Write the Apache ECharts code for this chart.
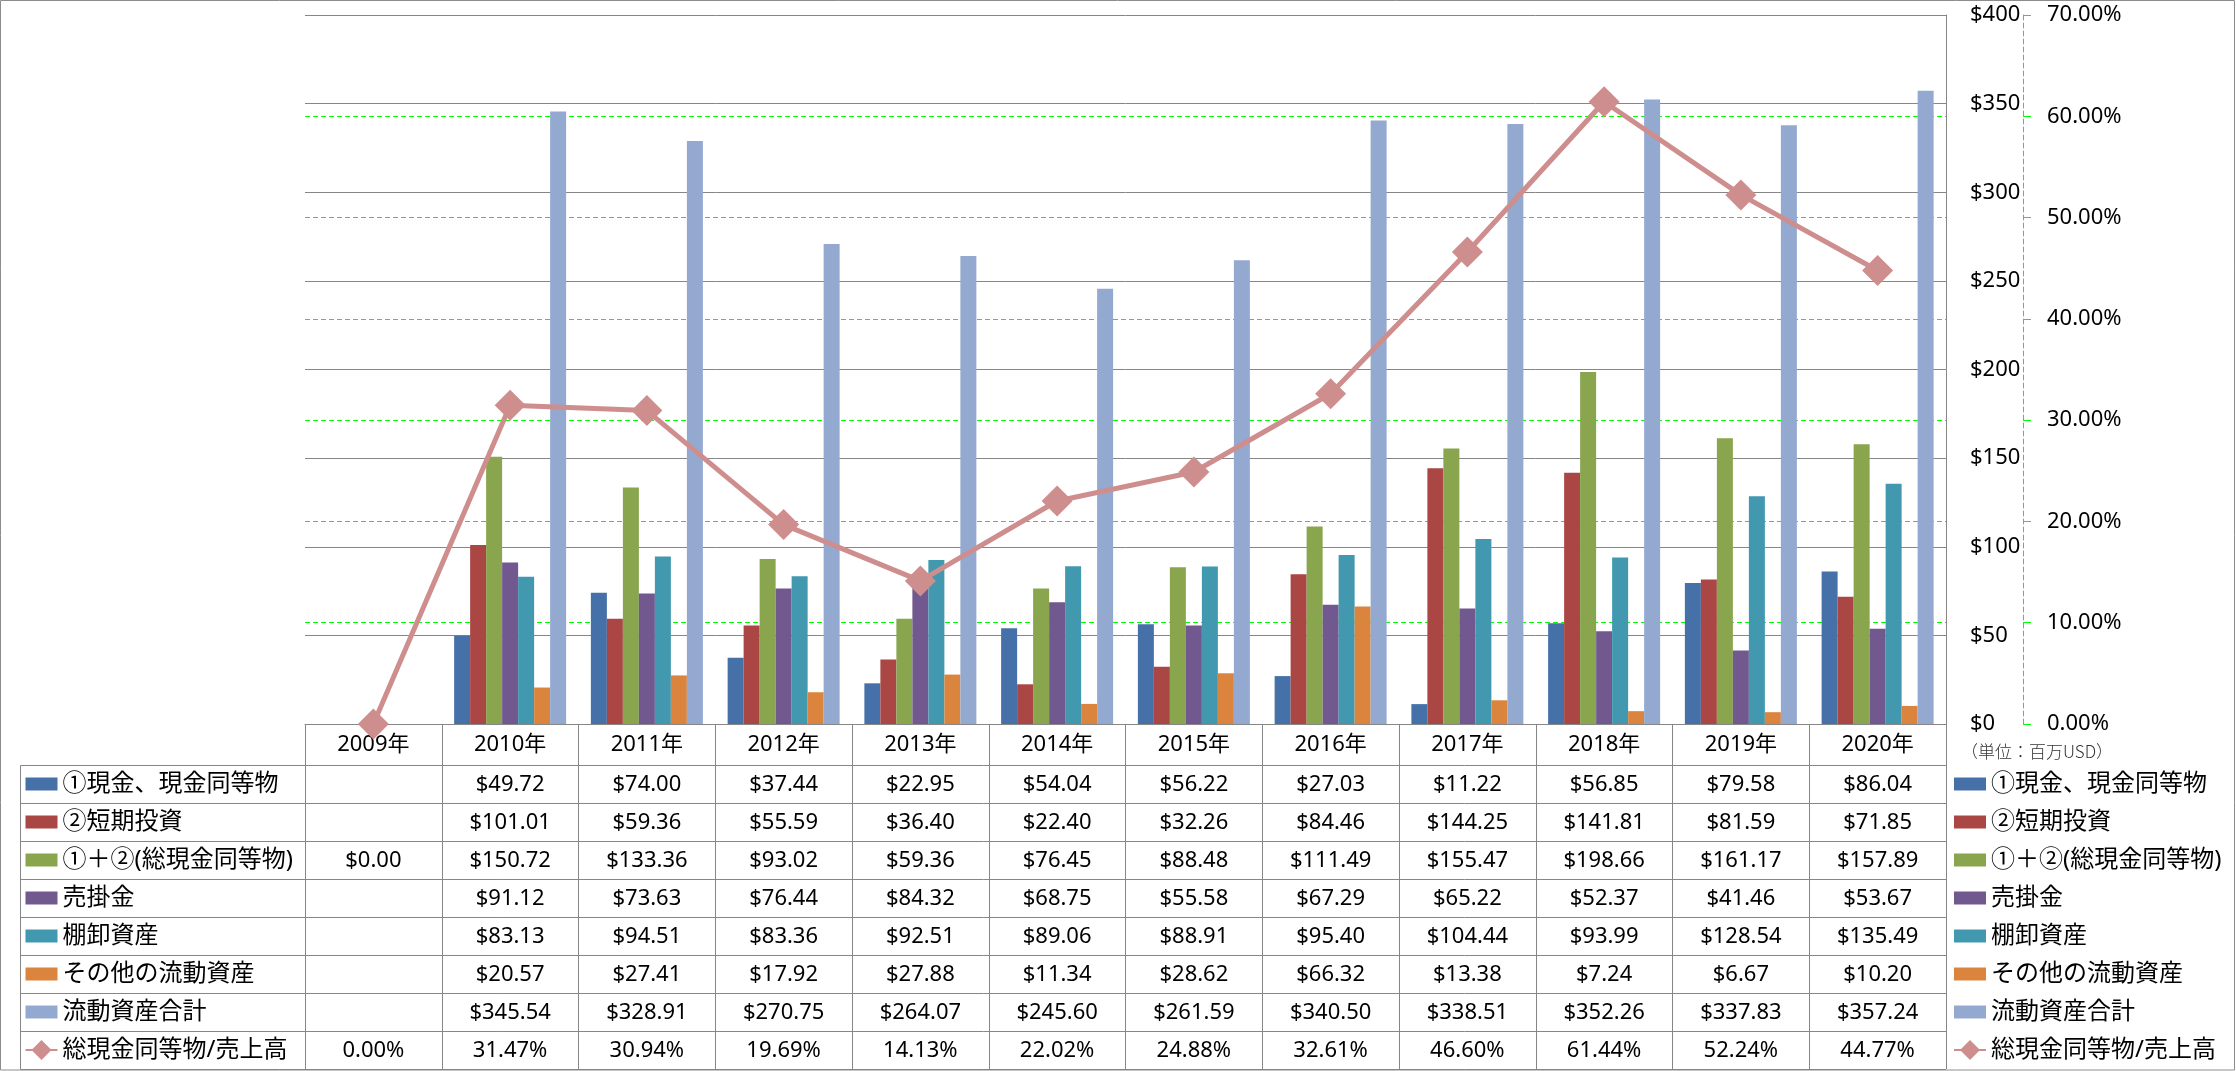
<!DOCTYPE html>
<html><head><meta charset="utf-8">
<script src="https://cdn.jsdelivr.net/npm/echarts@6/dist/echarts.min.js"></script>
<style>html,body{margin:0;padding:0;background:#fff}#c{width:2236px;height:1071px}</style>
</head><body><div id="c"></div>
<script>
const categories = ['2009年','2010年','2011年','2012年','2013年','2014年','2015年','2016年','2017年','2018年','2019年','2020年'];
const cash       = [null, 49.72, 74.00, 37.44, 22.95, 54.04, 56.22, 27.03, 11.22, 56.85, 79.58, 86.04];
const shortInv   = [null, 101.01, 59.36, 55.59, 36.40, 22.40, 32.26, 84.46, 144.25, 141.81, 81.59, 71.85];
const totalCash  = [0.00, 150.72, 133.36, 93.02, 59.36, 76.45, 88.48, 111.49, 155.47, 198.66, 161.17, 157.89];
const receivable = [null, 91.12, 73.63, 76.44, 84.32, 68.75, 55.58, 67.29, 65.22, 52.37, 41.46, 53.67];
const inventory  = [null, 83.13, 94.51, 83.36, 92.51, 89.06, 88.91, 95.40, 104.44, 93.99, 128.54, 135.49];
const otherCur   = [null, 20.57, 27.41, 17.92, 27.88, 11.34, 28.62, 66.32, 13.38, 7.24, 6.67, 10.20];
const totalCur   = [null, 345.54, 328.91, 270.75, 264.07, 245.60, 261.59, 340.50, 338.51, 352.26, 337.83, 357.24];
const ratio      = [0.00, 31.47, 30.94, 19.69, 14.13, 22.02, 24.88, 32.61, 46.60, 61.44, 52.24, 44.77];
const seriesNames = ['①現金、現金同等物','②短期投資','①＋②(総現金同等物)','売掛金','棚卸資産','その他の流動資産','流動資産合計','総現金同等物/売上高'];
const barColors = ['#4571A8','#AA4643','#89A54E','#71588F','#4198AF','#DB843D','#94A9D0'];
const lineColor = '#CF8E8E';
const unitText = '（単位：百万USD）';

const F = '"Noto Sans", "Noto Sans CJK JP", sans-serif';
const FJ = '"Noto Sans CJK JP", sans-serif';
const barData = [cash, shortInv, totalCash, receivable, inventory, otherCur, totalCur];

const chart = echarts.init(document.getElementById('c'), null, {renderer:'canvas'});

const legendBase = {
  orient:'vertical', top:771.5, padding:0, itemWidth:32, itemHeight:25, itemGap:13,
  selectedMode:false,
  textStyle:{fontSize:24, fontFamily:F, color:'#000', lineHeight:25},
  data: seriesNames.map((n,i)=> i<7 ? {name:n, icon:'path://M0,0H32V13H0Z'} : {name:n})
};

const series = barData.map((d,i)=>({
  name: seriesNames[i], type:'bar', data:d, barWidth:16, barGap:'0%',
  itemStyle:{color:barColors[i]}, yAxisIndex:0
}));
series.push({
  name: seriesNames[7], type:'line', yAxisIndex:1, data:ratio,
  symbol:'diamond', symbolSize:31, z:5,
  lineStyle:{width:5, color:lineColor}, itemStyle:{color:lineColor}
});

const option = {
  animation:false,
  backgroundColor:'#fff',
  textStyle:{fontFamily:F},
  grid:{left:305, right:290, top:15, bottom:347, containLabel:false},
  legend:[Object.assign({left:24.5}, legendBase), Object.assign({left:1953}, legendBase)],
  xAxis:{
    type:'category', data:categories,
    axisLine:{show:true, lineStyle:{color:'#868686', width:1}},
    axisTick:{show:true, length:345, lineStyle:{color:'#868686', width:1}},
    axisLabel:{interval:0, margin:10, fontSize:22, fontFamily:F, color:'#000'},
    splitLine:{show:false}
  },
  yAxis:[{
    type:'value', position:'right', min:0, max:400, interval:50,
    axisLine:{show:true, lineStyle:{color:'#868686', width:1}},
    axisTick:{show:false},
    axisLabel:{margin:24, fontSize:22, fontFamily:F, color:'#000', align:'left', formatter:v=>'$'+v},
    splitLine:{show:true, lineStyle:{color:'#868686', width:1}}
  },{
    type:'value', position:'right', offset:77, min:0, max:70, interval:10,
    axisLine:{show:true, lineStyle:{color:'#00FF00', width:1, type:[5,3]}},
    axisTick:{show:true, length:8, lineStyle:{color:'#00FF00', width:1}},
    axisLabel:{margin:24, fontSize:22, fontFamily:F, color:'#000', align:'left', formatter:v=>v.toFixed(2)+'%'},
    splitLine:{show:true, showMaxLine:false, showMinLine:false, lineStyle:{color:'#00FF00', width:1, type:[5,3]}}
  }],
  series: series
};
chart.setOption(option);

// data table drawn from the same arrays, positioned through the axes
const y0 = chart.convertToPixel({yAxisIndex:0}, 0);
const c0 = chart.convertToPixel({xAxisIndex:0}, 0);
const c1 = chart.convertToPixel({xAxisIndex:0}, 1);
const cw = c1 - c0;
const xR = chart.convertToPixel({xAxisIndex:0}, categories.length-1) + cw/2;
const headH = 41, rowH = 38, tableLeft = 20;
const rows = [
  ...barData.map(d => d.map(v => v==null ? '' : '$'+v.toFixed(2))),
  ratio.map(v => v==null ? '' : v.toFixed(2)+'%')
];
const els = [];
els.push({type:'rect', silent:true, shape:{x:0.5,y:0.5,width:2234,height:1069.5},
  style:{fill:null, stroke:'#8c8c8c', lineWidth:1}});
const yTop = Math.round(y0 + headH) + 0.5;
for (let k=0; k<=rows.length; k++) {
  const y = yTop + rowH*k;
  els.push({type:'line', silent:true, shape:{x1:tableLeft+0.5, y1:y, x2:xR, y2:y},
    style:{stroke:'#868686', lineWidth:1}});
}
els.push({type:'line', silent:true, shape:{x1:tableLeft+0.5, y1:yTop, x2:tableLeft+0.5, y2:yTop+rowH*rows.length},
  style:{stroke:'#868686', lineWidth:1}});
rows.forEach((r, ri) => {
  r.forEach((t, ci) => {
    if (!t) return;
    els.push({type:'text', silent:true,
      x: chart.convertToPixel({xAxisIndex:0}, ci),
      y: yTop + rowH*ri + rowH/2,
      style:{text:t, fontSize:22, fontFamily:F, fill:'#000', align:'center', verticalAlign:'middle'}});
  });
});
els.push({type:'text', silent:true, x:1961, y:752,
  style:{text:unitText, fontSize:17, fontFamily:FJ, fontWeight:300, fill:'#333', align:'left', verticalAlign:'middle'}});
chart.setOption({graphic:{elements:els}});
</script></body></html>
